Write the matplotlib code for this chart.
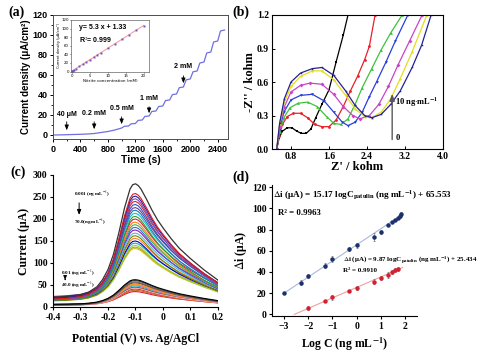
import matplotlib
matplotlib.use('Agg')
import matplotlib.pyplot as plt
import numpy as np

plt.rcParams['mathtext.fontset'] = 'stix'
SERIF = 'Liberation Serif'
SANS = 'Liberation Sans'

# ---- (a) amperometric i-t curve ----
time_s = [0, 100, 200, 300, 400, 500, 600, 700, 800, 900, 1000,
          1040, 1100, 1140, 1200, 1240, 1300, 1340, 1400, 1440, 1500,
          1540, 1600, 1640, 1700, 1740, 1800, 1840, 1900, 1940, 2000,
          2040, 2100, 2140, 2200, 2240, 2300, 2340, 2400, 2440, 2500]
current_density = [0, 0.1, 0.3, 0.5, 0.7, 1.0, 1.5, 2.5, 3.5, 5, 7,
                   8.7, 9, 11.2, 11.5, 14.6, 15, 18.6, 19, 23.5, 24,
                   28.5, 29, 34.5, 35, 40.4, 41, 47.3, 48, 55.2, 56,
                   63.2, 64, 72, 73, 82, 83, 93, 94, 104, 105]
step_labels = ['40 μM', '0.2 mM', '0.5 mM', '1 mM', '2 mM']
step_times = [200, 600, 1000, 1400, 1900]
step_label_y = [20, 21, 26, 36, 68]
step_arrow_top = [16, 16, 21, 31, 62]
step_arrow_tip = [2, 3, 8, 19, 49]

# inset calibration
nitrite_mM = [0, 0.04, 0.2, 0.5, 1, 2, 3, 4, 5, 6, 7, 8, 10, 12, 14, 16, 18, 20]
calib_current = [1.3, 1.5, 2.4, 4, 6.8, 12, 17.5, 22.8, 28, 33.5, 38.6, 44,
                 54.5, 65, 75.5, 86, 96, 105]
calib_slope, calib_icpt = 5.3, 1.33

# ---- (b) Nyquist plots ----
nyq_colors = ['black', '#e8202a', '#3cc23c', '#2a3fd8', '#c845c8', '#e6dc1e', '#23238f']
nyq_markers = ['s', 'o', '^', 'v', 'D', 'p', '*']
nyq_x = [
    [0.5, 0.55, 0.62, 0.72, 0.82, 0.92, 1.02, 1.12, 1.22, 1.32, 1.45, 1.6, 1.75, 1.9, 2.0],
    [0.5, 0.55, 0.62, 0.72, 0.85, 1.0, 1.15, 1.3, 1.45, 1.6, 1.75, 1.9, 2.05, 2.2, 2.35, 2.45, 2.57],
    [0.5, 0.56, 0.65, 0.78, 0.95, 1.15, 1.35, 1.55, 1.7, 1.85, 2.0, 2.15, 2.3, 2.5, 2.7, 2.9, 3.14],
    [0.5, 0.56, 0.65, 0.8, 1.0, 1.25, 1.5, 1.7, 1.88, 2.0, 2.15, 2.3, 2.45, 2.6, 2.8, 3.0, 3.26],
    [0.5, 0.56, 0.66, 0.8, 1.0, 1.2, 1.45, 1.7, 1.9, 2.1, 2.25, 2.45, 2.65, 2.85, 3.05, 3.3, 3.56],
    [0.5, 0.56, 0.66, 0.8, 1.0, 1.25, 1.45, 1.7, 1.95, 2.15, 2.35, 2.5, 2.7, 2.9, 3.1, 3.35, 3.66],
    [0.5, 0.56, 0.66, 0.8, 1.0, 1.25, 1.45, 1.7, 1.95, 2.15, 2.35, 2.5, 2.7, 2.9, 3.1, 3.35, 3.55, 3.75],
]
nyq_y = [
    [0.0, 0.1, 0.16, 0.19, 0.19, 0.16, 0.14, 0.14, 0.18, 0.28, 0.4, 0.53, 0.78, 1.02, 1.2],
    [0.0, 0.12, 0.22, 0.29, 0.32, 0.32, 0.28, 0.22, 0.2, 0.2, 0.26, 0.38, 0.52, 0.65, 0.8, 0.92, 1.2],
    [0.0, 0.15, 0.28, 0.37, 0.41, 0.42, 0.38, 0.29, 0.23, 0.22, 0.27, 0.4, 0.55, 0.72, 0.89, 1.04, 1.2],
    [0.0, 0.18, 0.33, 0.44, 0.48, 0.49, 0.43, 0.33, 0.24, 0.21, 0.24, 0.33, 0.47, 0.6, 0.78, 0.97, 1.2],
    [0.0, 0.2, 0.38, 0.51, 0.57, 0.59, 0.58, 0.49, 0.38, 0.3, 0.27, 0.3, 0.4, 0.56, 0.75, 0.97, 1.2],
    [0.0, 0.22, 0.42, 0.56, 0.65, 0.7, 0.7, 0.62, 0.48, 0.36, 0.29, 0.28, 0.33, 0.45, 0.63, 0.87, 1.2],
    [0.0, 0.23, 0.45, 0.6, 0.68, 0.72, 0.73, 0.66, 0.52, 0.39, 0.3, 0.28, 0.31, 0.4, 0.52, 0.73, 0.93, 1.2],
]

# ---- (c) DPV curves ----
potential_V = [-0.40, -0.35, -0.30, -0.27, -0.24, -0.22, -0.20, -0.18, -0.16, -0.14,
               -0.12, -0.11, -0.10, -0.09, -0.08, -0.06, -0.04, -0.02, 0.00, 0.03,
               0.06, 0.10, 0.15, 0.20]
top_curve_uA = [22, 24, 28, 34, 46, 62, 85, 120, 170, 225,
                268, 278, 280, 276, 268, 245, 220, 198, 180, 155,
                133, 110, 84, 61]
upper_peaks = [258, 252, 246, 240, 233, 226, 220, 213, 206, 200, 193,
               187, 181, 175, 168, 162, 156, 150, 145, 140, 136, 133]
upper_start = [18, 20, 16, 22, 19, 24, 17, 21, 15, 23, 18,
               20, 16, 22, 19, 14, 21, 17, 23, 15, 20, 18]
upper_colors = ['#e41a1c', '#1f1f9f', '#8e44ad', '#d62728', '#2a52be', '#6a3d9a',
                '#1f77b4', '#17becf', '#2ca02c', '#e6194b', '#ff7f0e', '#3cb44b',
                '#4363d8', '#911eb4', '#46c0e0', '#808000', '#f58231', '#0000cd',
                '#20b2aa', '#9acd32', '#b8a020', '#d4c21a']
lower_peaks = [62, 60, 57, 55, 52, 50, 48, 45, 43, 41, 38, 35]
lower_start = [6, 5, 4, 6, 5, 4, 5, 6, 4, 5, 4, 5]
lower_colors = ['black', '#444444', '#666666', '#8b4513', '#ff8c00', '#ff69b4',
                '#00bcd4', '#a0522d', '#ffb6c1', '#b22222', '#d2691e', '#dc143c']

# ---- (d) calibration ----
logc_hi = [-3, -2.3, -2, -1.3, -1, -0.3, 0, 0.7, 1, 1.3, 1.45, 1.6, 1.7, 1.78, 1.85]
di_hi = [20, 30, 36, 46, 52, 62, 65, 73, 78, 84, 87, 89, 91, 93, 95]
err_hi = [1, 2, 2, 2, 3, 2, 2, 4, 2, 1, 1, 1, 1, 2, 2]
logc_lo = [-2, -1.3, -1, -0.3, 0, 0.7, 1, 1.3, 1.45, 1.6, 1.7]
di_lo = [6, 13, 16, 22, 25, 31, 34, 37, 40, 42, 43]
err_lo = [2, 1, 2, 1, 2, 2, 2, 3, 2, 2, 2]
fit_hi = (15.17, 65.553)
fit_lo = (9.87, 25.434)

W, H = 489, 357
fig = plt.figure(figsize=(W / 100, H / 100), dpi=100)

def box(l, t, r, b):
    return [l / W, 1 - b / H, (r - l) / W, (b - t) / H]

def bold_ticks(ax, family, size):
    for lab in ax.get_xticklabels() + ax.get_yticklabels():
        lab.set_fontfamily(family)
        lab.set_fontweight('bold')
        lab.set_fontsize(size)

# ---------------- (a) ----------------
axa = fig.add_axes(box(53, 15, 228, 139))
axa.plot(time_s, current_density, color='#6f6fe0', lw=0.9)
axa.set_xlim(0, 2550)
axa.set_ylim(-4, 120)
axa.set_xticks([0, 400, 800, 1200, 1600, 2000, 2400])
axa.set_xticks(np.arange(200, 2550, 400), minor=True)
axa.set_yticks([0, 20, 40, 60, 80, 100, 120])
axa.set_yticks(np.arange(10, 120, 20), minor=True)
axa.tick_params(direction='out', length=2.5, width=0.7, pad=1.5)
axa.tick_params(which='minor', length=1.5, width=0.6)
bold_ticks(axa, SANS, 6.5)
axa.set_xlabel('Time (s)', fontfamily=SANS, fontweight='bold', fontsize=7.5, labelpad=1)
axa.set_ylabel('Current density (μA/cm²)', fontfamily=SANS, fontweight='bold',
               fontsize=7, labelpad=1)
for s in axa.spines.values():
    s.set_linewidth(0.7)
    s.set_color('0.3')
for lab, t, ly, top, tip in zip(step_labels, step_times, step_label_y,
                                step_arrow_top, step_arrow_tip):
    axa.text(t, ly, lab, ha='center', va='center', fontsize=5, fontweight='bold',
             fontfamily=SANS)
    axa.annotate('', xy=(t, tip), xytext=(t, top),
                 arrowprops=dict(arrowstyle='-|>,head_length=0.3,head_width=0.12',
                                 color='black', lw=0.6))

axi = fig.add_axes(box(71, 20, 149, 72))
axi.plot([0, 20], [calib_icpt, calib_slope * 20 + calib_icpt], color='#f4a0a0', lw=0.8)
axi.plot(nitrite_mM, calib_current, 's', color='#7050c0', ms=1.4, mew=0)
axi.set_xlim(-0.3, 21.5)
axi.set_ylim(-1, 120)
axi.set_xticks([0, 5, 10, 15, 20])
axi.set_yticks([0, 20, 40, 60, 80, 100, 120])
axi.tick_params(labelsize=2.8, length=1, width=0.4, pad=0.5)
axi.set_xlabel('Nitrite concentration (mM)', fontsize=3, labelpad=0.5)
axi.set_ylabel('Current density (μA/cm²)', fontsize=2.6, labelpad=0.5)
for s in axi.spines.values():
    s.set_linewidth(0.5)
    s.set_color('0.4')
axi.text(2, 103, 'y= 5.3 x + 1.33', fontsize=5, fontweight='bold', fontfamily=SANS,
         va='center')
axi.text(2, 72, 'R$^2$= 0.999', fontsize=5, fontweight='bold', fontfamily=SANS,
         va='center')

# ---------------- (b) ----------------
axb = fig.add_axes(box(272, 15, 443, 149))
for xs, ys, c, m in zip(nyq_x, nyq_y, nyq_colors, nyq_markers):
    axb.plot(xs, ys, color=c, lw=0.9)
    axb.plot(xs, ys, m, color=c, ms=2.0, mew=0)
axb.set_xlim(0.4, 4.0)
axb.set_ylim(0, 1.2)
axb.set_xticks([0.8, 1.6, 2.4, 3.2, 4.0])
axb.set_yticks([0.0, 0.3, 0.6, 0.9, 1.2])
axb.tick_params(direction='in', length=2, width=0.7, pad=2)
bold_ticks(axb, SERIF, 7)
axb.set_xlabel("Z' / kohm", fontfamily=SERIF, fontweight='bold', fontsize=9, labelpad=0)
axb.set_ylabel("-Z'' / kohm", fontfamily=SERIF, fontweight='bold', fontsize=9, labelpad=1)
axb.annotate('', xy=(2.93, 0.52), xytext=(2.93, 0.06),
             arrowprops=dict(arrowstyle='-|>,head_length=0.4,head_width=0.15',
                             color='0.35', lw=1.0))
axb.text(2.99, 0.42, r'10 ng$\cdot$mL$^{\mathbf{-1}}$', fontfamily=SERIF,
         fontweight='bold', fontsize=6, va='center')
axb.text(3.0, 0.1, '0', fontfamily=SERIF, fontweight='bold', fontsize=6, va='center')

# ---------------- (c) ----------------
axc = fig.add_axes(box(53, 175, 218, 307))
top_base = top_curve_uA[0]
top_rise = max(top_curve_uA) - top_base
top_arr = np.array(top_curve_uA)
for pk, st, c in zip(lower_peaks[::-1], lower_start[::-1], lower_colors[::-1]):
    axc.plot(potential_V, st + (top_arr - top_base) * (pk - st) / top_rise, color=c, lw=0.8)
for pk, st, c in zip(upper_peaks[::-1], upper_start[::-1], upper_colors[::-1]):
    axc.plot(potential_V, st + (top_arr - top_base) * (pk - st) / top_rise, color=c, lw=0.8)
axc.plot(potential_V, top_curve_uA, color='#333333', lw=0.9)
axc.set_xlim(-0.4, 0.2)
axc.set_ylim(0, 300)
axc.set_xticks([-0.4, -0.3, -0.2, -0.1, 0, 0.1, 0.2])
axc.set_xticklabels(['-0.4', '-0.3', '-0.2', '-0.1', '0', '0.1', '0.2'])
axc.set_yticks([0, 50, 100, 150, 200, 250, 300])
axc.tick_params(direction='out', length=2, width=0.8, pad=2)
bold_ticks(axc, SERIF, 7)
axc.spines['top'].set_visible(False)
axc.spines['right'].set_visible(False)
axc.set_xlabel('Potential (V) vs. Ag/AgCl', fontfamily=SERIF, fontweight='bold',
               fontsize=8.5, labelpad=8)
axc.set_ylabel('Current (μA)', fontfamily=SERIF, fontweight='bold', fontsize=8.5, labelpad=2)
small = dict(fontfamily=SERIF, fontweight='bold', fontsize=3.6, va='center')
axc.text(-0.325, 255, r'0.001 (ng mL$^{-1}$)', **small)
axc.annotate('', xy=(-0.305, 203), xytext=(-0.305, 243),
             arrowprops=dict(arrowstyle='-|>,head_length=0.3,head_width=0.12',
                             color='black', lw=0.7))
axc.text(-0.325, 192, r'70.0(ng mL$^{-1}$)', **small)
axc.text(-0.372, 76, r'0.01 (ng mL$^{-1}$)', **small)
axc.annotate('', xy=(-0.356, 55), xytext=(-0.356, 69),
             arrowprops=dict(arrowstyle='-|>,head_length=0.25,head_width=0.1',
                             color='black', lw=0.6))
axc.text(-0.372, 47, r'40.0 (ng mL$^{-1}$)', **small)

# ---------------- (d) ----------------
axd = fig.add_axes(box(272, 185, 417, 316))
xh = np.array([-3.0, 1.85])
xl = np.array([-fit_lo[1] / fit_lo[0], 1.9])
axd.plot(xh, fit_hi[0] * xh + fit_hi[1], color='#a8b8d8', lw=0.8)
axd.plot(xl, fit_lo[0] * xl + fit_lo[1], color='#f0a0a0', lw=0.8)
axd.errorbar(logc_hi, di_hi, yerr=err_hi, fmt='o', color='#1c2f6e', ms=2.2,
             elinewidth=0.5, capsize=0.8, capthick=0.5, ecolor='0.45')
axd.errorbar(logc_lo, di_lo, yerr=err_lo, fmt='o', color='#d42030', ms=2.2,
             elinewidth=0.5, capsize=0.8, capthick=0.5, ecolor='0.45')
axd.set_xlim(-3.5, 2.5)
axd.set_ylim(-1.5, 122)
axd.set_xticks([-3, -2, -1, 0, 1, 2])
axd.set_yticks([0, 20, 40, 60, 80, 100, 120])
axd.tick_params(direction='out', length=2, width=0.8, pad=2)
bold_ticks(axd, SERIF, 7)
axd.spines['top'].set_visible(False)
axd.spines['right'].set_visible(False)
axd.set_xlabel(r'Log C (ng mL$^{\mathbf{-1}}$)', fontfamily=SERIF, fontweight='bold',
               fontsize=8.5, labelpad=4)
axd.set_ylabel(r'$\Delta$i (μA)', fontfamily=SERIF, fontweight='bold', fontsize=8.5,
               labelpad=2)
axd.text(-3.45, 112, r'$\Delta$i (μA) = 15.17 logC$_{\mathbf{patulin}}$ (ng mL$^{\mathbf{-1}}$) + 65.553',
         fontfamily=SERIF, fontweight='bold', fontsize=6.6, va='center', clip_on=False)
axd.text(-3.25, 96, 'R² = 0.9963', fontfamily=SERIF, fontweight='bold', fontsize=6.3,
         va='center')
axd.text(-0.57, 51, r'$\Delta$i (μA) = 9.87 logC$_{\mathbf{patulin}}$ (ng mL$^{\mathbf{-1}}$) + 25.434',
         fontfamily=SERIF, fontweight='bold', fontsize=5.0, va='center', clip_on=False)
axd.text(-0.57, 41.5, 'R² = 0.9910', fontfamily=SERIF, fontweight='bold', fontsize=5.0,
         va='center')

# panel letters
for txt, x, y in [('(a)', 8, 12), ('(b)', 232, 12), ('(c)', 10, 172), ('(d)', 232, 177)]:
    fig.text(x / W, 1 - y / H, txt, fontfamily=SERIF, fontweight='bold', fontsize=10,
             va='center', ha='left')

fig.savefig('out.png', dpi=100)
